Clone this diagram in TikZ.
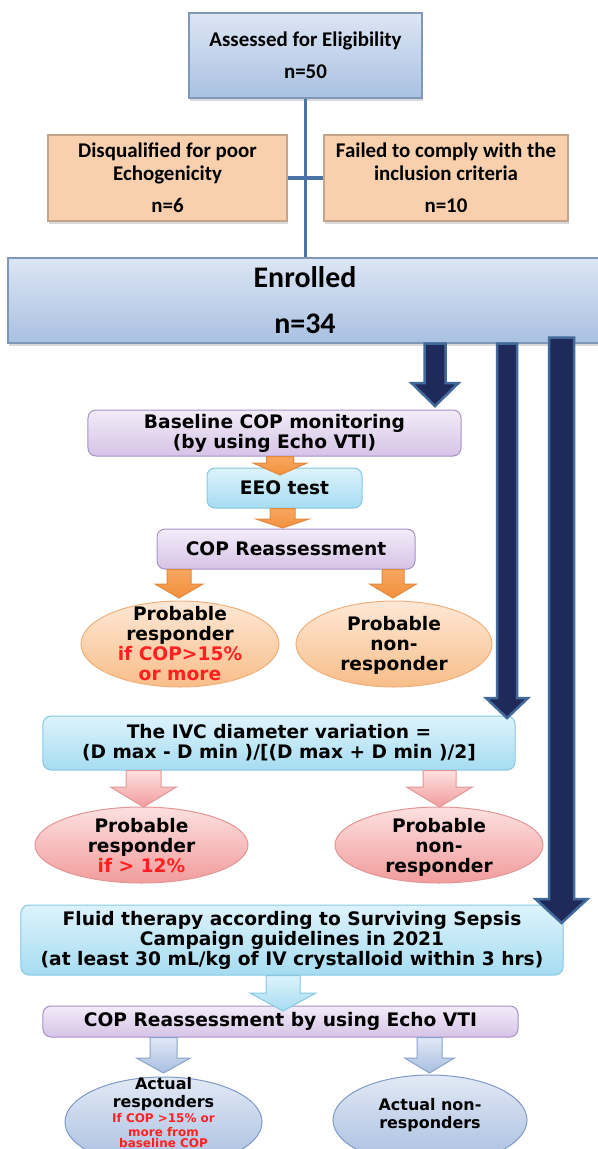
\documentclass[tikz,border=0pt]{standalone}
\usepackage{fontspec}
\newfontfamily\calib{Carlito}
\newfontfamily\verd{DejaVu Sans}
\usetikzlibrary{shapes.geometric,shadows,calc}

\definecolor{topA}{HTML}{DCE6F4}
\definecolor{topB}{HTML}{A9C0E1}
\definecolor{topedge}{HTML}{8097B8}
\definecolor{peach}{HTML}{F9D0AE}
\definecolor{peachedge}{HTML}{C4A58C}
\definecolor{navy}{HTML}{1F2A5B}
\definecolor{navyedge}{HTML}{41699A}
\definecolor{linkblue}{HTML}{4A74A8}
\definecolor{purA}{HTML}{F3ECF8}
\definecolor{purB}{HTML}{D5C3E6}
\definecolor{puredge}{HTML}{A792C8}
\definecolor{cyaA}{HTML}{DDF3FB}
\definecolor{cyaB}{HTML}{A6DCF1}
\definecolor{cyaedge}{HTML}{86C8E2}
\definecolor{oraA}{HTML}{F8A660}
\definecolor{oraB}{HTML}{F2903C}
\definecolor{oraedge}{HTML}{E18A3E}
\definecolor{oelA}{HTML}{FEE8D6}
\definecolor{oelB}{HTML}{F8BD88}
\definecolor{oeledge}{HTML}{F0B07C}
\definecolor{pinkA}{HTML}{FDE0E0}
\definecolor{pinkB}{HTML}{F19C9C}
\definecolor{pinkedge}{HTML}{E29696}
\definecolor{blA}{HTML}{E1E9F5}
\definecolor{blB}{HTML}{A8BEE0}
\definecolor{bledge}{HTML}{8AA3C9}
\definecolor{beledge}{HTML}{7F9AC4}
\definecolor{redtxt}{HTML}{FF2020}

% block arrow pointing down: [style]{from}{tip}{shaft half}{head half}{head length}
\newcommand{\blockdown}[6][]{%
  \draw[#1] let \p1=(#2), \p2=(#3) in
    (\x2-#4,\y1) -- (\x2+#4,\y1) -- (\x2+#4,\y2+#6) -- (\x2+#5,\y2+#6)
    -- (\x2,\y2) -- (\x2-#5,\y2+#6) -- (\x2-#4,\y2+#6) -- cycle;}
% centred text block inside an ellipse
\newcommand{\ctext}[2][-7bp]{\raisebox{#1}[0pt][0pt]{\begin{tabular}{@{}c@{}}#2\end{tabular}}}
\newcommand{\redt}[1]{\textcolor{redtxt}{#1}}

\begin{document}
\begin{tikzpicture}[
    x=1bp, y=-1bp,
    shade/.style={drop shadow={shadow xshift=1bp, shadow yshift=-3bp, opacity=.3}},
    topbox/.style={rectangle, draw=topedge, line width=1.2bp, top color=topA, bottom color=topB, minimum height=85bp, align=center, font=\calib\bfseries\fontsize{21}{23}\selectfont, shade},
    peachbox/.style={rectangle, draw=peachedge, line width=1.2bp, fill=peach, minimum height=86bp, align=center, font=\calib\bfseries\fontsize{21}{23}\selectfont, shade},
    purplebox/.style={rectangle, rounded corners=8bp, draw=puredge, line width=1bp, top color=purA, bottom color=purB, inner sep=2bp, align=center, font=\verd\bfseries\fontsize{18.7}{20}\selectfont},
    cyanbox/.style={rectangle, rounded corners=8bp, draw=cyaedge, line width=1bp, top color=cyaA, bottom color=cyaB, inner sep=2bp, align=center, font=\verd\bfseries\fontsize{18.7}{20}\selectfont},
    orangeell/.style={ellipse, draw=oeledge, line width=1bp, top color=oelA, bottom color=oelB, inner sep=0pt, font=\verd\bfseries\fontsize{18.7}{20}\selectfont},
    pinkell/.style={ellipse, draw=pinkedge, line width=1bp, top color=pinkA, bottom color=pinkB, inner sep=0pt, font=\verd\bfseries\fontsize{18.7}{20}\selectfont},
    blueell/.style={ellipse, draw=beledge, line width=1bp, top color=blA, bottom color=blB, inner sep=0pt, font=\verd\bfseries\fontsize{16}{18}\selectfont},
    link/.style={draw=linkblue, line width=3.5bp},
    navyarrow/.style={draw=navyedge, line width=2.5bp, fill=navy, line join=miter},
    orangearrow/.style={draw=oraedge, line width=1bp, top color=oraA, bottom color=oraB},
    pinkarrow/.style={draw=pinkedge, line width=1bp, top color=pinkA, bottom color=pinkB},
    cyanarrow/.style={draw=cyaedge, line width=1bp, top color=cyaA, bottom color=cyaB},
    bluearrow/.style={draw=bledge, line width=1bp, top color=blA, bottom color=blB}
]
\useasboundingbox (0,0) rectangle (598,1149);
\clip (0,0) rectangle (598,1149);

% screening
\node[topbox, minimum width=233bp] (assess) at (305.5,55.5) {Assessed for Eligibility\\[9bp]n=50};
\node[peachbox, minimum width=239bp] (disq) at (167.5,178) {Disqualified for poor\\Echogenicity\\[9bp]n=6};
\node[peachbox, minimum width=244bp] (fail) at (446,178) {Failed to comply with the\\inclusion criteria\\[9bp]n=10};
\draw[link] (assess.south) -- (assess.south |- 0,258);
\draw[link] (disq) -- (fail);
\node[topbox, minimum width=594bp, font=\calib\bfseries\fontsize{30}{46}\selectfont] (enr) at (305,300.5) {Enrolled\\n=34};

% EEO test
\node[purplebox, minimum width=373bp, minimum height=46bp] (base) at (274.5,433) {Baseline COP monitoring\\(by using Echo VTI)};
\node[cyanbox, minimum width=155bp, minimum height=40bp] (eeo) at (284.5,488) {EEO test};
\node[purplebox, minimum width=258bp, minimum height=40bp] (reas) at (286,549) {COP Reassessment};
\node[orangeell, minimum width=198bp, minimum height=86bp] (pr1) at (180,644) {\ctext{Probable\\responder\\\redt{if COP>15\%}\\\redt{or more}}};
\node[orangeell, minimum width=196bp, minimum height=86bp] (pn1) at (394,644) {\ctext{Probable\\non-\\responder}};

% IVC
\node[cyanbox, minimum width=472bp, minimum height=54bp] (ivc) at (279,743) {The IVC diameter variation =\\(D max - D min )/[(D max + D min )/2]};
\node[pinkell, minimum width=213bp, minimum height=76bp] (pr2) at (141.5,845) {\ctext[-8bp]{Probable\\responder\\\redt{if > 12\%}}};
\node[pinkell, minimum width=208bp, minimum height=76bp] (pn2) at (439,845) {\ctext[-8bp]{Probable\\non-\\responder}};

% fluid challenge
\node[cyanbox, minimum width=542bp, minimum height=70bp] (fluid) at (292,940) {Fluid therapy according to Surviving Sepsis\\Campaign guidelines in 2021\\(at least 30 mL/kg of IV crystalloid within 3 hrs)};
\node[purplebox, minimum width=475bp, minimum height=31bp] (reas2) at (280.5,1021.5) {COP Reassessment by using Echo VTI};
\node[blueell, minimum width=197bp, minimum height=90bp] (act1) at (163.5,1122) {\ctext[3bp]{Actual\\responders\\[-3bp]
  \fontsize{12}{14}\selectfont\redt{If COP >15\% or}\\[-4bp]
  \fontsize{12}{14}\selectfont\redt{more from}\\[-7bp]
  \fontsize{12}{14}\selectfont\redt{baseline COP}}};
\node[blueell, minimum width=194bp, minimum height=90bp] (act2) at (430,1120) {\ctext[0bp]{Actual non-\\responders}};

% arrow tips
\coordinate (n1) at (435,406);
\coordinate (n2) at (507,718);
\coordinate (n3) at (561.5,923);
\coordinate (o1) at (280,475);
\coordinate (o2) at (282.5,528);
\coordinate (o3) at (179,598);
\coordinate (o4) at (393,598);
\coordinate (p1) at (143.5,807);
\coordinate (p2) at (439.5,807);
\coordinate (c1) at (283,1011);
\coordinate (b1) at (163.5,1073);
\coordinate (b2) at (429.5,1073);

\blockdown[navyarrow]{enr.south -| n1}{n1}{10.5bp}{23.5bp}{23bp}
\blockdown[navyarrow]{enr.south -| n2}{n2}{10bp}{21bp}{20bp}
\blockdown[navyarrow]{$(enr.south -| n3)+(0,-6)$}{n3}{12.5bp}{26bp}{24bp}

\blockdown[orangearrow]{base.south -| o1}{o1}{13.5bp}{27bp}{12bp}
\blockdown[orangearrow]{eeo.south -| o2}{o2}{12.5bp}{26.5bp}{9bp}
\blockdown[orangearrow]{reas.south -| o3}{o3}{12bp}{24bp}{14bp}
\blockdown[orangearrow]{reas.south -| o4}{o4}{11bp}{23.5bp}{14bp}

\blockdown[pinkarrow]{ivc.south -| p1}{p1}{17.5bp}{33bp}{20bp}
\blockdown[pinkarrow]{ivc.south -| p2}{p2}{16.5bp}{33bp}{20bp}

\blockdown[cyanarrow]{fluid.south -| c1}{c1}{17bp}{33bp}{18bp}

\blockdown[bluearrow]{reas2.south -| b1}{b1}{13.5bp}{27bp}{15bp}
\blockdown[bluearrow]{reas2.south -| b2}{b2}{12.5bp}{25bp}{15bp}

\end{tikzpicture}
\end{document}
